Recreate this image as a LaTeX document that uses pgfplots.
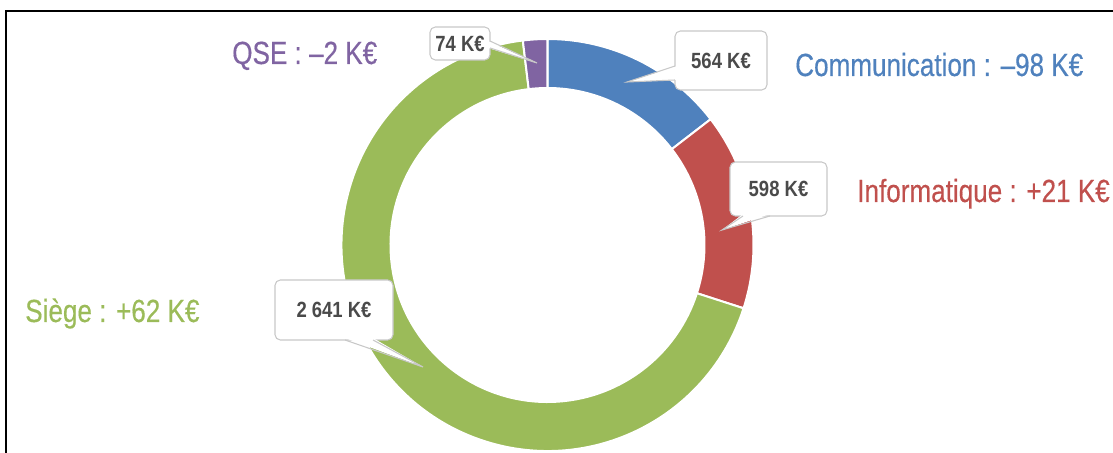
\documentclass[border=0pt]{standalone}
\usepackage{fontspec}
\usepackage{pgfplots}
\usepackage{pgfplotstable}
\pgfplotsset{compat=1.18}
\usetikzlibrary{calc}
\newfontfamily\narrow[FakeStretch=0.815,FakeBold=0.4]{Liberation Sans}
\newfontfamily\narrowval[FakeStretch=0.84]{Liberation Sans}

\definecolor{cblue}{HTML}{4F81BD}
\definecolor{cred}{HTML}{C0504D}
\definecolor{cgreen}{HTML}{9BBB59}
\definecolor{cpurple}{HTML}{8064A2}
\definecolor{ctext}{HTML}{4A4A4A}
\definecolor{cbox}{HTML}{C8C8C8}

% budget per service (K EUR), in clockwise order from the top
\pgfplotstableread{
name          value
Communication 564
Informatique  598
Siege         2641
QSE           74
}\budget

\begin{document}
\begin{tikzpicture}
\pgfplotstablegetelem{0}{value}\of\budget \let\vA\pgfplotsretval
\pgfplotstablegetelem{1}{value}\of\budget \let\vB\pgfplotsretval
\pgfplotstablegetelem{2}{value}\of\budget \let\vC\pgfplotsretval
\pgfplotstablegetelem{3}{value}\of\budget \let\vD\pgfplotsretval
\pgfmathsetmacro\tot{\vA+\vB+\vC+\vD}
\pgfmathsetmacro\aA{90}
\pgfmathsetmacro\aB{\aA-360*(\vA/\tot)}
\pgfmathsetmacro\aC{\aB-360*(\vB/\tot)}
\pgfmathsetmacro\aD{\aC-360*(\vC/\tot)}
\pgfmathsetmacro\aE{\aD-360*(\vD/\tot)}
\def\Ro{154.5pt}
\def\Ri{117.75pt}
\begin{axis}[
    x=0.75pt, y=0.75pt,
    xmin=0, xmax=1113, ymin=0, ymax=453,
    hide axis,
]
\path (rel axis cs:0,0) rectangle (rel axis cs:1,1);
\coordinate (C) at (axis cs:547.5,208);

% donut segments
\fill[cblue, draw=white, line width=1.5pt]
    ([shift={(\aA:\Ro)}]C) arc[start angle=\aA, end angle=\aB, radius=\Ro]
    -- ([shift={(\aB:\Ri)}]C) arc[start angle=\aB, end angle=\aA, radius=\Ri] -- cycle;
\fill[cred, draw=white, line width=1.5pt]
    ([shift={(\aB:\Ro)}]C) arc[start angle=\aB, end angle=\aC, radius=\Ro]
    -- ([shift={(\aC:\Ri)}]C) arc[start angle=\aC, end angle=\aB, radius=\Ri] -- cycle;
\fill[cgreen, draw=white, line width=1.5pt]
    ([shift={(\aC:\Ro)}]C) arc[start angle=\aC, end angle=\aD, radius=\Ro]
    -- ([shift={(\aD:\Ri)}]C) arc[start angle=\aD, end angle=\aC, radius=\Ri] -- cycle;
\fill[cpurple, draw=white, line width=1.5pt]
    ([shift={(\aD:\Ro)}]C) arc[start angle=\aD, end angle=\aE, radius=\Ro]
    -- ([shift={(\aE:\Ri)}]C) arc[start angle=\aE, end angle=\aD, radius=\Ri] -- cycle;

% frame
\draw[black, line width=1.9pt] (axis cs:6,0) -- (axis cs:6,442) -- (axis cs:1113,442);

% callouts
\tikzset{box/.style={draw=cbox, fill=white, rounded corners=4pt, line width=0.8pt},
         ptr/.style={draw=cbox, line width=0.8pt},
         val/.style={text=ctext, font=\narrowval\bfseries\fontsize{16.5}{19}\selectfont}}
% 74
\draw[box] (axis cs:430,426) rectangle (axis cs:490,393);
\fill[white] (axis cs:488,412) -- (axis cs:537,390) -- (axis cs:488,405) -- cycle;
\draw[ptr] (axis cs:490,412) -- (axis cs:537,390) -- (axis cs:490,405);
\node[val] at (axis cs:460,409.5) {74 K€};
% 564
\draw[box] (axis cs:675,422) rectangle (axis cs:767,363);
\fill[white] (axis cs:677,387) -- (axis cs:627,371) -- (axis cs:677,373) -- cycle;
\draw[ptr] (axis cs:675,387) -- (axis cs:627,371) -- (axis cs:675,373);
\node[val] at (axis cs:721,392.5) {564 K€};
% 598
\draw[box] (axis cs:730,291) rectangle (axis cs:827,237);
\fill[white] (axis cs:743,239) -- (axis cs:722,223) -- (axis cs:770,239) -- cycle;
\draw[ptr] (axis cs:743,237) -- (axis cs:722,223) -- (axis cs:770,237);
\node[val] at (axis cs:778.5,264) {598 K€};
% 2641
\draw[box] (axis cs:275,173) rectangle (axis cs:393,113);
\fill[white] (axis cs:345,115) -- (axis cs:423,86) -- (axis cs:373,115) -- cycle;
\draw[ptr] (axis cs:345,113) -- (axis cs:423,86) -- (axis cs:373,113);
\node[val] at (axis cs:334,143) {2 641 K€};

% category labels
\tikzset{lab/.style={anchor=base west, inner sep=0pt, font=\narrow\fontsize{24}{28}\selectfont}}
\node[lab, text=cpurple] at (axis cs:232,389) {QSE : –2 K€};
\node[lab, text=cblue]   at (axis cs:795,377) {Communication : –98 K€};
\node[lab, text=cred]    at (axis cs:857,251) {Informatique : +21 K€};
\node[lab, text=cgreen]  at (axis cs:25,131)  {Siège : +62 K€};
\end{axis}
\end{tikzpicture}
\end{document}
